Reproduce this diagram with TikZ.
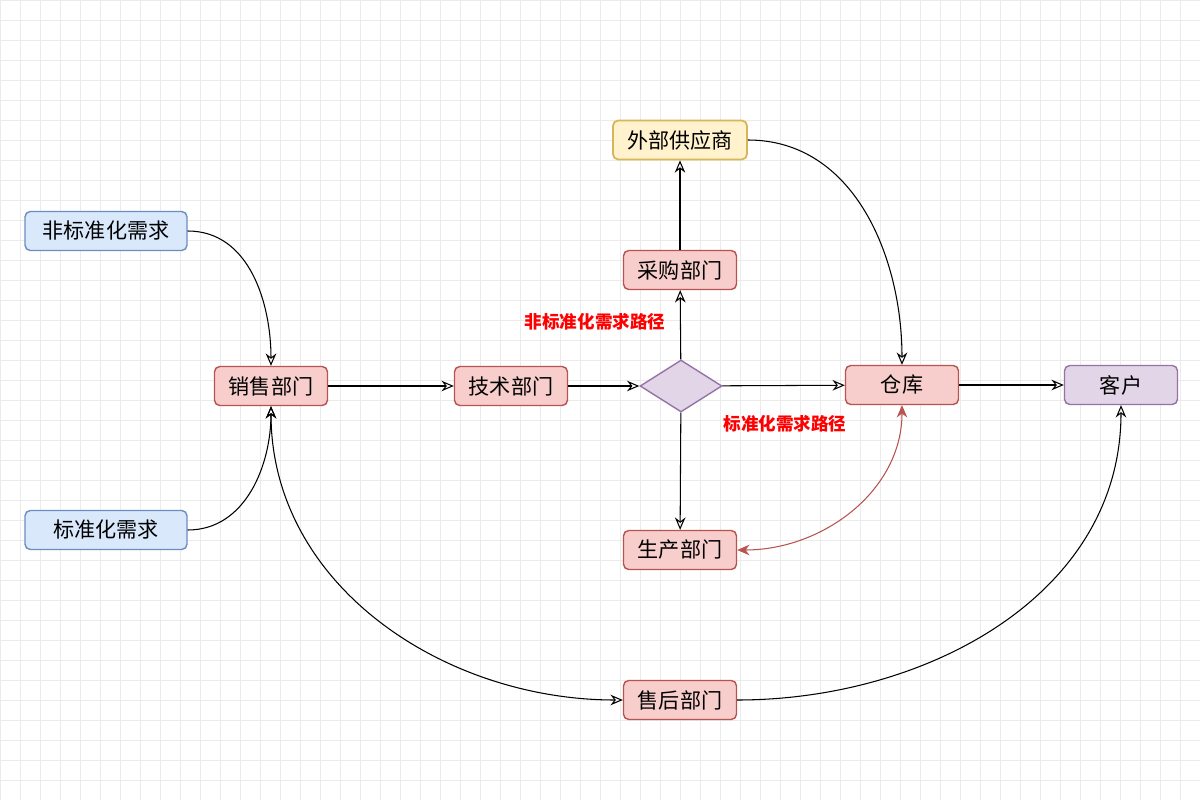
\documentclass[tikz,border=0pt]{standalone}
\usepackage{fontspec}
\setmainfont{Noto Sans CJK SC}
\usetikzlibrary{arrows.meta,shapes.geometric,patterns}
\definecolor{bluef}{HTML}{DAE8FC}\definecolor{blued}{HTML}{6C8EBF}
\definecolor{redf}{HTML}{F8CECC}\definecolor{redd}{HTML}{B85450}
\definecolor{purf}{HTML}{E1D5E7}\definecolor{purd}{HTML}{9673A6}
\definecolor{yelf}{HTML}{FFF2CC}\definecolor{yeld}{HTML}{D6B656}
\begin{document}
\begin{tikzpicture}[x=0.02cm,y=-0.02cm,
 box/.style={draw,rounded corners=3pt,minimum width=113*0.02cm,minimum height=39*0.02cm,font=\fontsize{12}{14}\selectfont,line width=0.8pt},
 bl/.style={box,fill=bluef,draw=blued,minimum width=162*0.02cm},
 rd/.style={box,fill=redf,draw=redd},
 pu/.style={box,fill=purf,draw=purd},
 ye/.style={box,fill=yelf,draw=yeld,minimum width=134*0.02cm,line width=1pt},
 lab/.style={text=red,font=\bfseries\fontsize{10}{12}\selectfont},
 ar/.style={-{Stealth[open,length=7pt,width=6pt]},line width=0.6pt}]
\useasboundingbox (0,0) rectangle (1200,800);
\fill[white] (0,0) rectangle (1200,800);
\draw[black!8,line width=0.3pt,step=20*0.02cm] (0,0) grid (1200,800);
\node[bl] (n1) at (106,231) {非标准化需求};
\node[bl] (n2) at (106,530) {标准化需求};
\node[rd] (xs) at (271,386) {销售部门};
\node[rd] (js) at (511,386) {技术部门};
\node[diamond,draw=purd,fill=purf,line width=0.8pt,minimum width=82*0.02cm,minimum height=52*0.02cm,inner sep=0pt,aspect=1.6] (d) at (681,386) {};
\node[rd] (cg) at (680,270) {采购部门};
\node[ye] (wb) at (680,140) {外部供应商};
\node[rd] (sc) at (680,550) {生产部门};
\node[rd] (ck) at (902,385) {仓库};
\node[pu] (kh) at (1121,385) {客户};
\node[rd] (sh) at (680,700) {售后部门};
\node[lab] (l1) at (595,322) {非标准化需求路径};
\node[lab] (l2) at (785,424) {标准化需求路径};
\draw[ar] (n1.east) to[out=0,in=90] (xs.north);
\draw[ar] (n2.east) to[out=0,in=-90] (xs.south);
\draw[ar] (xs) -- (js);
\draw[ar] (js) -- (d);
\draw[ar] (d) -- (ck);
\draw[ar] (d) -- (cg);
\draw[ar] (cg) -- (wb);
\draw[ar] (d) -- (sc);
\draw[ar] (wb.east) to[out=0,in=90] (ck.north);
\draw[ar] (ck) -- (kh);
\draw[{Stealth[length=7pt,width=6pt,fill=redd]}-{Stealth[length=7pt,width=6pt,fill=redd]},draw=redd,line width=0.6pt] (ck.south) to[out=-90,in=0] (sc.east);
\draw[{Stealth[open,length=7pt,width=6pt]}-{Stealth[open,length=7pt,width=6pt]},line width=0.6pt] (xs.south) to[out=-90,in=180] (sh.west);
\draw[ar] (sh.east) to[out=0,in=-90] (kh.south);
\end{tikzpicture}
\end{document}
